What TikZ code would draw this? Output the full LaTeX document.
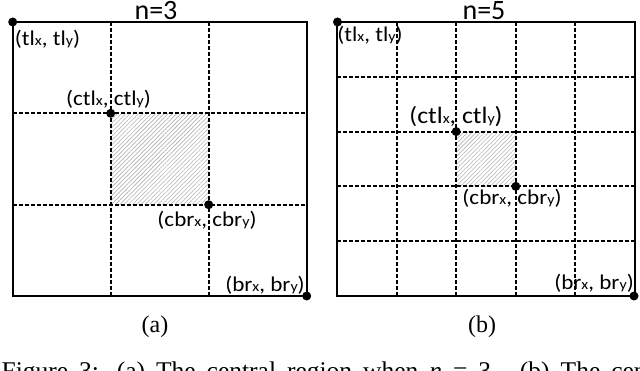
\documentclass[tikz,border=0pt]{standalone}
\usepackage{fontspec}
\setmainfont{Liberation Serif}
\newfontfamily\labfont{Carlito}
\usetikzlibrary{patterns.meta}
\newcommand\sm[1]{{\fontsize{14.5}{14.5}\selectfont #1}}
\newcommand\clab[1]{\scalebox{1.1}[1]{(#1\sm{x}, #1\sm{y})}}
\tikzset{
  border/.style={line width=2.4pt},
  gridline/.style={line width=2pt, dash pattern=on 4pt off 2pt},
  dot/.style={circle, fill=black, inner sep=0pt, minimum size=9pt},
  lab/.style={font=\labfont\fontsize{21}{21}\selectfont, inner sep=0pt},
  biglab/.style={font=\labfont\fontsize{23.5}{23.5}\selectfont, inner sep=0pt},
  title/.style={font=\labfont\fontsize{28}{28}\selectfont, inner sep=0pt, anchor=base},
  sub/.style={font=\fontsize{24}{24}\selectfont, inner sep=0pt},
  hatch/.style={pattern={Lines[angle=45,distance=3pt,line width=0.6pt]}, pattern color=gray!60}
}
\begin{document}
\begin{tikzpicture}[x=1pt,y=-1pt]
\useasboundingbox (0,0) rectangle (640,371);
% ---------- (a) n=3 ----------
\fill[hatch] (110.7,113.3) rectangle (208.7,204.7);
\foreach \xx in {110.7,208.7} \draw[gridline] (\xx,22) -- (\xx,296);
\foreach \yy in {113.3,204.7} \draw[gridline] (12.7,\yy) -- (306.7,\yy);
\draw[border] (12.7,22) rectangle (306.7,296);
\node[dot] (tlA) at (12.7,22) {};
\node[dot] (ctlA) at (110.7,113.3) {};
\node[dot] (cbrA) at (208.7,204.7) {};
\node[dot] (brA) at (306.7,296) {};
\node[title] (tA) at (156,19.5) {n=3};
\node[lab] (ltlA) at (47.5,39.5) {\clab{tl}};
\node[lab] (lctlA) at (108.5,99) {\clab{ctl}};
\node[lab] (lcbrA) at (207,220) {\clab{cbr}};
\node[lab] (lbrA) at (265,285) {\clab{br}};
\node[sub] (capA) at (155,327) {(a)};
% ---------- (b) n=5 ----------
\fill[hatch] (456.2,131.6) rectangle (515.8,186.4);
\foreach \xx in {396.6,456.2,515.8,575.4} \draw[gridline] (\xx,22) -- (\xx,296);
\foreach \yy in {76.8,131.6,186.4,241.2} \draw[gridline] (337,\yy) -- (635,\yy);
\draw[border] (337,22) rectangle (635,296);
\node[dot] (tlB) at (337.5,22) {};
\node[dot] (ctlB) at (456.2,131.6) {};
\node[dot] (cbrB) at (515.8,186.4) {};
\node[dot] (brB) at (634,296) {};
\node[title] (tB) at (484,19.5) {n=5};
\node[lab] (ltlB) at (370,35) {\clab{tl}};
\node[biglab] (lctlB) at (456,117) {\clab{ctl}};
\node[lab] (lcbrB) at (512,198) {\clab{cbr}};
\node[lab] (lbrB) at (594,283) {\clab{br}};
\node[sub] (capB) at (482,327) {(b)};
% ---------- caption (cut off) ----------
\begin{scope}
\clip (0,0) rectangle (640,371);
\node[font=\fontsize{25.5}{25.5}\selectfont, inner sep=0pt, anchor=base west] (cap) at (1.5,379)
  {\makebox[645pt][s]{Figure 3: (a) The central region when \textit{n} = 3. (b) The cen}};
\end{scope}
\end{tikzpicture}
\end{document}
